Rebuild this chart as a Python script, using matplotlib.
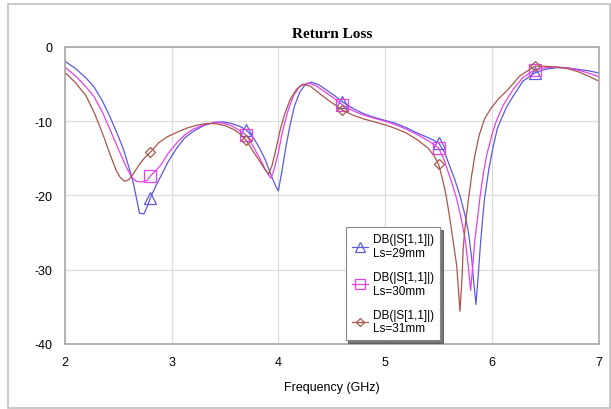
import numpy as np
import matplotlib
matplotlib.use('Agg')
import matplotlib.pyplot as plt
from matplotlib.patches import Rectangle

plt.rcParams['axes.unicode_minus'] = False

# frequency (GHz) / return loss (dB)
f29 = [2.00, 2.10, 2.20, 2.27, 2.35, 2.42, 2.50, 2.55, 2.60, 2.64, 2.67, 2.70, 2.74, 2.77,
       2.80, 2.85, 2.90, 2.97, 3.05, 3.12, 3.20, 3.30, 3.40, 3.48, 3.56, 3.64, 3.70, 3.77,
       3.83, 3.88, 3.93, 3.97, 4.00, 4.03, 4.07, 4.11, 4.15, 4.20, 4.25, 4.31, 4.38, 4.45,
       4.53, 4.60, 4.70, 4.80, 4.90, 5.00, 5.10, 5.20, 5.30, 5.40, 5.50, 5.56, 5.60, 5.65,
       5.70, 5.75, 5.78, 5.81, 5.83, 5.85, 5.87, 5.89, 5.91, 5.93, 5.97, 6.01, 6.05, 6.09,
       6.14, 6.20, 6.29, 6.40, 6.50, 6.60, 6.70, 6.80, 6.90, 7.00]
s29 = [-1.9, -2.9, -4.2, -5.3, -7.2, -9.3, -12.0, -13.8, -16.2, -18.2, -20.3, -22.4, -22.5, -21.6,
       -20.4, -18.8, -17.4, -15.4, -13.6, -12.3, -11.4, -10.6, -10.15, -10.1, -10.3, -10.7, -11.2, -12.3,
       -13.8, -15.3, -17.2, -18.6, -19.4, -17.0, -13.5, -10.5, -8.0, -6.1, -5.1, -4.75, -5.1, -5.8,
       -6.6, -7.4, -8.3, -9.0, -9.5, -9.9, -10.3, -10.9, -11.6, -12.2, -12.9, -14.3, -15.9, -17.8,
       -20.0, -22.8, -25.0, -28.5, -31.8, -34.7, -31.0, -27.0, -23.5, -20.5, -16.5, -13.5, -11.0, -9.6,
       -8.0, -6.6, -4.6, -3.5, -3.0, -2.8, -2.8, -3.0, -3.2, -3.5]

f30 = [2.00, 2.10, 2.20, 2.27, 2.35, 2.42, 2.50, 2.58, 2.63, 2.67, 2.72, 2.77, 2.80, 2.85,
       2.90, 2.97, 3.05, 3.12, 3.20, 3.30, 3.40, 3.48, 3.56, 3.63, 3.70, 3.76, 3.83, 3.88,
       3.93, 3.96, 4.00, 4.04, 4.09, 4.14, 4.20, 4.28, 4.35, 4.43, 4.52, 4.60, 4.70, 4.80,
       4.90, 5.00, 5.10, 5.20, 5.30, 5.40, 5.50, 5.54, 5.57, 5.62, 5.67, 5.71, 5.75, 5.78,
       5.80, 5.82, 5.84, 5.87, 5.89, 5.92, 5.95, 6.00, 6.04, 6.10, 6.15, 6.20, 6.29, 6.40,
       6.50, 6.60, 6.70, 6.80, 6.90, 7.00]
s30 = [-2.7, -3.9, -5.4, -6.6, -8.7, -11.0, -13.7, -16.3, -17.6, -18.1, -18.2, -18.0, -17.4, -16.7,
       -15.9, -14.3, -12.9, -11.9, -11.1, -10.5, -10.2, -10.25, -10.6, -11.2, -11.9, -13.3, -15.1, -16.6,
       -17.7, -16.5, -14.2, -11.3, -8.6, -6.6, -5.3, -4.85, -5.2, -6.0, -6.9, -7.8, -8.6, -9.2,
       -9.6, -10.0, -10.5, -11.1, -11.8, -12.6, -13.6, -14.8, -16.0, -18.1, -20.5, -23.0, -26.0, -29.8,
       -32.8, -29.5, -26.0, -22.5, -20.0, -17.0, -14.6, -11.8, -10.0, -8.0, -6.8, -5.7, -4.1, -3.1,
       -2.8, -2.7, -2.8, -3.1, -3.5, -4.0]

f31 = [2.00, 2.10, 2.20, 2.28, 2.36, 2.42, 2.48, 2.52, 2.56, 2.60, 2.65, 2.70, 2.75, 2.80,
       2.88, 2.96, 3.05, 3.15, 3.25, 3.33, 3.42, 3.50, 3.58, 3.64, 3.70, 3.76, 3.83, 3.87,
       3.91, 3.94, 3.98, 4.02, 4.06, 4.11, 4.17, 4.23, 4.30, 4.38, 4.46, 4.53, 4.60, 4.70,
       4.80, 4.90, 5.00, 5.10, 5.20, 5.30, 5.40, 5.46, 5.50, 5.54, 5.57, 5.60, 5.63, 5.67,
       5.70, 5.72, 5.73, 5.75, 5.78, 5.81, 5.84, 5.88, 5.93, 5.99, 6.06, 6.14, 6.26, 6.40,
       6.50, 6.60, 6.70, 6.80, 6.90, 7.00]
s31 = [-3.4, -4.8, -6.6, -9.0, -11.9, -14.3, -16.6, -17.6, -18.1, -17.9, -16.9, -15.8, -14.9, -14.2,
       -12.9, -12.1, -11.5, -10.9, -10.5, -10.3, -10.35, -10.6, -11.1, -11.7, -12.6, -14.0, -15.5, -16.4,
       -17.1, -16.0, -13.6, -11.0, -9.0, -7.1, -5.7, -5.0, -5.3, -6.2, -7.1, -7.8, -8.5, -9.2,
       -9.7, -10.1, -10.5, -11.0, -11.6, -12.5, -13.6, -14.7, -15.8, -18.0, -20.0, -22.6, -25.5, -29.5,
       -35.6, -31.0, -27.2, -24.0, -20.5, -17.3, -14.6, -11.9, -9.7, -8.3, -7.0, -5.9, -3.9, -2.6,
       -2.6, -2.7, -2.9, -3.3, -3.9, -4.6]

marker_freqs = [2.8, 3.7, 4.6, 5.5, 6.4]
labels = ['DB(|S[1,1]|)\nLs=29mm', 'DB(|S[1,1]|)\nLs=30mm', 'DB(|S[1,1]|)\nLs=31mm']

fig = plt.figure(figsize=(6.11, 4.10), dpi=100)
ax = fig.add_axes([0.106, 0.159, 0.874, 0.724])

series = [(f29, s29, '#5a5ae6', '^', 9),
          (f30, s30, '#e642e6', 's', 9),
          (f31, s31, '#a8574a', 'D', 5)]

for (f, s, c, m, ms), lab in zip(series, labels):
    f = np.array(f)
    idx = [int(np.argmin(np.abs(f - mf))) for mf in marker_freqs]
    ax.plot(f, s, color=c, lw=0.9, marker=m, markevery=idx, markersize=ms,
            markerfacecolor='none', markeredgecolor=c, markeredgewidth=0.9, label=lab)

ax.set_xlim(2, 7)
ax.set_ylim(-40, 0)
ax.set_xticks([2, 3, 4, 5, 6, 7])
ax.set_yticks([0, -10, -20, -30, -40])
ax.grid(True, color='#dcdcdc', lw=0.9)
ax.set_axisbelow(True)
ax.tick_params(length=0, labelsize=9, pad=9)
for lbl in ax.get_xticklabels() + ax.get_yticklabels():
    lbl.set_family('Liberation Sans')
for sp in ax.spines.values():
    sp.set_color('#a8a8a8')
    sp.set_linewidth(1.2)

ax.set_title('Return Loss', family='Liberation Serif', fontweight='bold', fontsize=11, pad=7)
ax.set_xlabel('Frequency (GHz)', family='Liberation Sans', fontsize=9, labelpad=9)

leg = ax.legend(loc='lower left', bbox_to_anchor=(0.515, -0.008),
                prop={'family': 'Liberation Sans', 'size': 8.5},
                fancybox=False, shadow={'color': '#555555', 'alpha': 0.8},
                edgecolor='#888888', framealpha=1, handlelength=1.4,
                handletextpad=0.4, labelspacing=1.0, borderpad=0.5,
                markerscale=0.8)
leg.get_frame().set_linewidth(0.8)

fig.patches.append(Rectangle((0.013, 0.002), 0.985, 0.985, transform=fig.transFigure,
                             fill=False, edgecolor='#c0c0c0', lw=1.2))

fig.savefig('out.png', dpi=100)
